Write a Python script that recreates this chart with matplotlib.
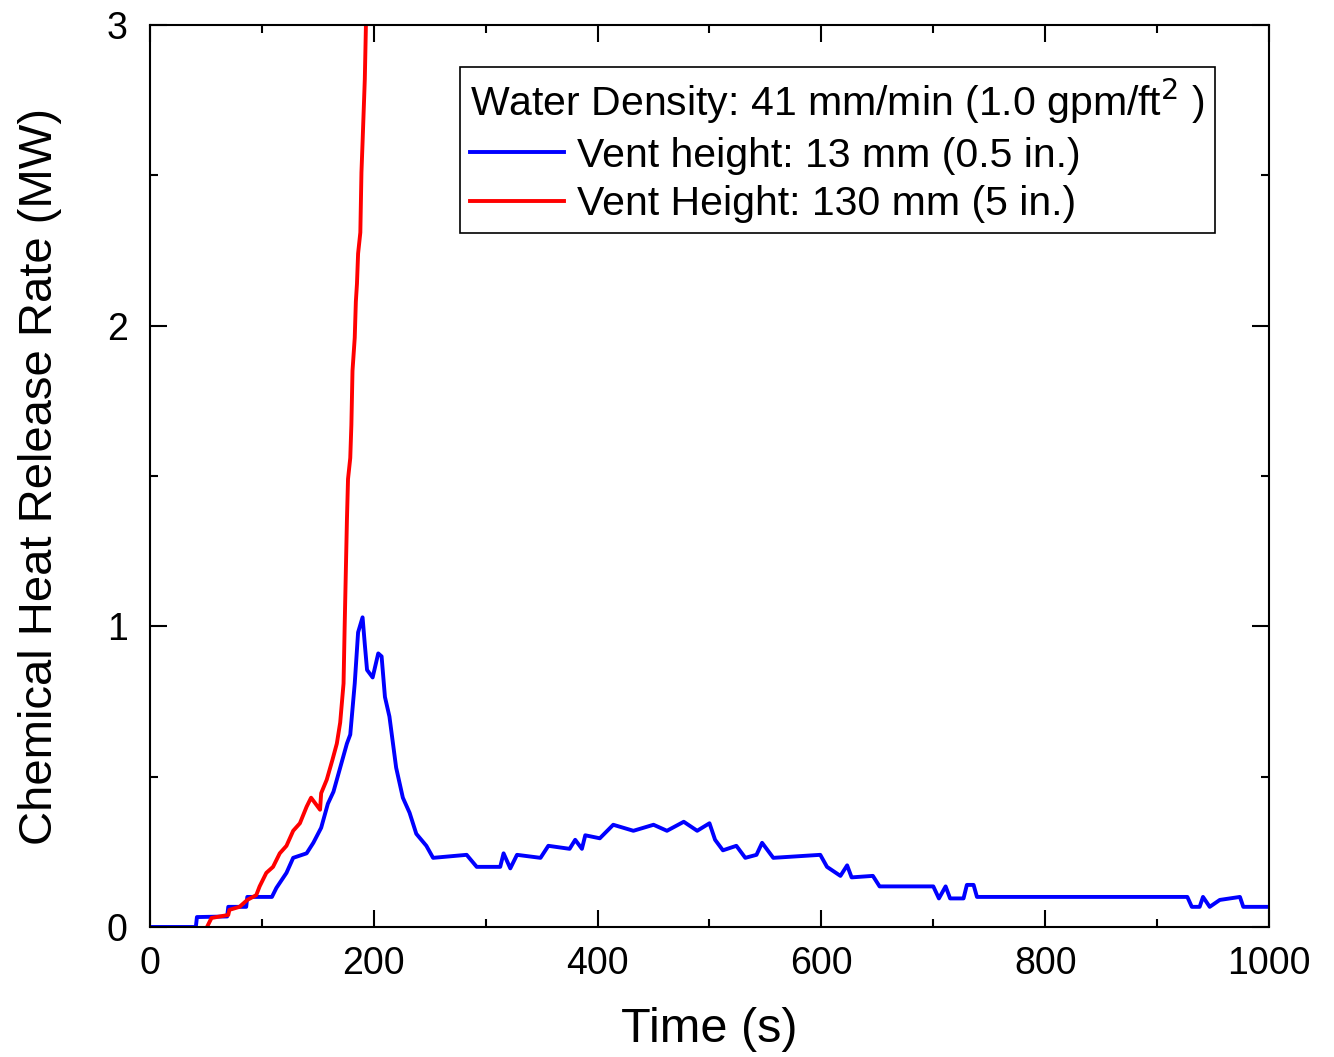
import numpy as np
import matplotlib.pyplot as plt

plt.rcParams['font.family'] = ['Liberation Sans', 'DejaVu Sans']

# vent height 13 mm (blue)
t_13 = [0, 20, 41, 42, 69, 70, 86, 87, 109, 113, 122, 128, 140, 146, 153, 159, 164,
        170, 176, 179, 183, 186, 190, 192, 194, 199, 204, 207, 210, 214, 220, 226,
        232, 238, 247, 253, 283, 292, 313, 316, 322, 328, 349, 356, 375, 380, 386,
        389, 402, 414, 432, 450, 462, 477, 489, 500, 505, 512, 524, 532, 542, 547,
        557, 599, 605, 617, 623, 627, 646, 652, 700, 705, 711, 715, 727, 730, 736,
        739, 927, 931, 938, 941, 947, 956, 974, 977, 1000]
q_13 = [0.0, 0.0, 0.0, 0.033, 0.035, 0.067, 0.067, 0.10, 0.10, 0.13, 0.18, 0.23,
        0.245, 0.28, 0.33, 0.41, 0.45, 0.53, 0.61, 0.64, 0.81, 0.98, 1.03, 0.94,
        0.855, 0.83, 0.91, 0.90, 0.765, 0.70, 0.53, 0.43, 0.38, 0.31, 0.27, 0.23,
        0.24, 0.20, 0.20, 0.245, 0.195, 0.24, 0.23, 0.27, 0.26, 0.29, 0.26, 0.305,
        0.295, 0.34, 0.32, 0.34, 0.32, 0.35, 0.32, 0.345, 0.29, 0.255, 0.27, 0.23,
        0.24, 0.28, 0.23, 0.24, 0.20, 0.17, 0.205, 0.165, 0.17, 0.135, 0.135, 0.095,
        0.135, 0.095, 0.095, 0.14, 0.14, 0.10, 0.10, 0.067, 0.067, 0.10, 0.067,
        0.09, 0.10, 0.067, 0.067]

# vent height 130 mm (red)
t_130 = [51, 55, 70, 71, 80, 87, 95, 98, 104, 110, 116, 122, 128, 134, 140, 144,
         147, 152, 153, 158, 163, 167, 170, 173, 174, 176, 177, 179, 180, 181, 183,
         184, 185, 186, 188, 189, 190, 192, 193, 195]
q_130 = [0.0, 0.03, 0.04, 0.057, 0.067, 0.09, 0.106, 0.135, 0.18, 0.20, 0.245,
         0.27, 0.32, 0.345, 0.40, 0.43, 0.415, 0.39, 0.445, 0.49, 0.555, 0.61,
         0.68, 0.81, 1.0, 1.35, 1.49, 1.56, 1.67, 1.85, 1.96, 2.08, 2.14, 2.24,
         2.31, 2.51, 2.61, 2.82, 3.0, 3.3]

fig = plt.figure(figsize=(13.34, 10.57), dpi=100)
ax = fig.add_axes([0.1124, 0.123, 0.8389, 0.8533])

ax.plot(t_13, q_13, color='#0000ff', lw=2.8, label='Vent height: 13 mm (0.5 in.)')
ax.plot(t_130, q_130, color='#ff0000', lw=2.8, label='Vent Height: 130 mm (5 in.)')

ax.set_xlim(0, 1000)
ax.set_ylim(0, 3)
ax.set_xticks([0, 200, 400, 600, 800, 1000])
ax.set_xticks(np.arange(100, 1000, 200), minor=True)
ax.set_yticks([0, 1, 2, 3])
ax.set_yticks([0.5, 1.5, 2.5], minor=True)
ax.tick_params(which='both', direction='in', top=True, right=True, width=1.5,
               labelsize=27)
ax.tick_params(axis='x', pad=14)
ax.tick_params(axis='y', pad=16)
ax.tick_params(which='major', length=12)
ax.tick_params(which='minor', length=6)
for s in ax.spines.values():
    s.set_linewidth(1.5)

ax.set_xlabel('Time (s)', fontsize=35, labelpad=18)
ax.set_ylabel('Chemical Heat Release Rate (MW)', fontsize=34, labelpad=32)

leg = ax.legend(loc='upper right', bbox_to_anchor=(0.9517, 0.9534),
                title='Water Density: 41 mm/min (1.0 gpm/ft$^2$ )',
                fontsize=29.5, title_fontsize=29.5, fancybox=False, edgecolor='black',
                framealpha=1, handlelength=2.3, handletextpad=0.3,
                borderpad=0.25, labelspacing=0.25, borderaxespad=0)
leg._legend_box.align = 'left'
leg.get_frame().set_linewidth(1.2)

fig.savefig('out.png', dpi=100)
